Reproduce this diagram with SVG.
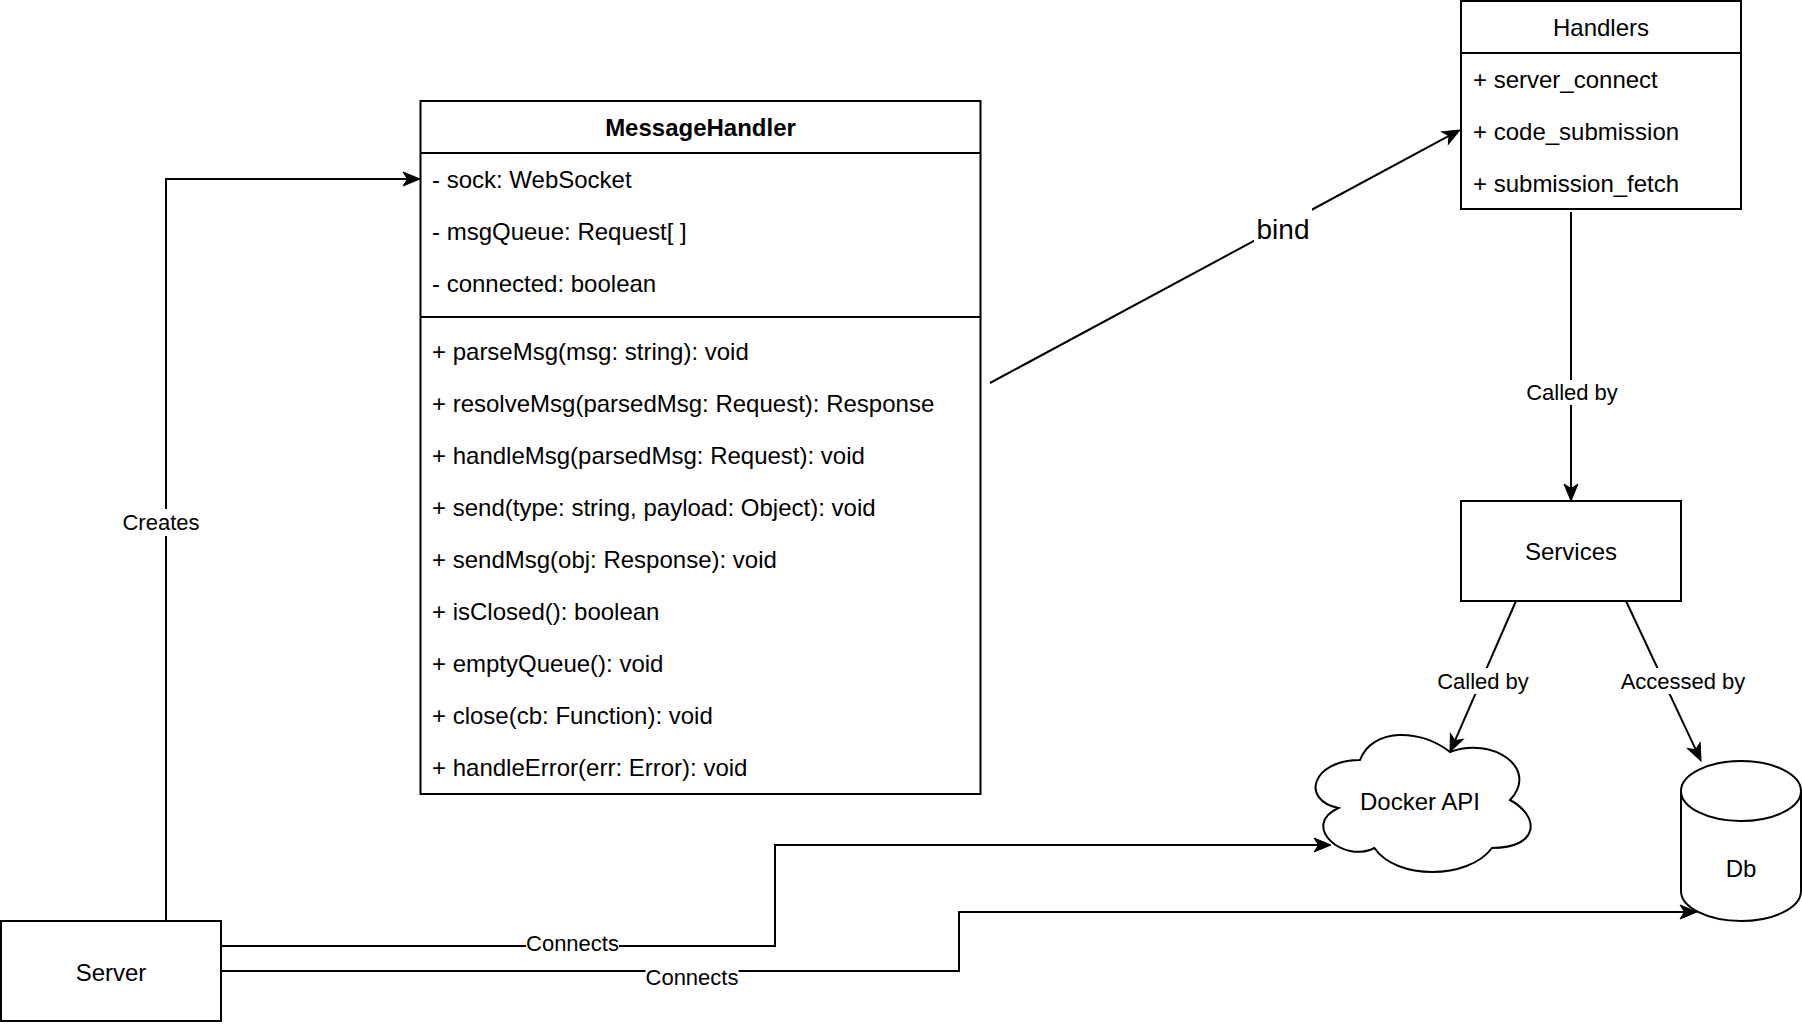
<svg xmlns="http://www.w3.org/2000/svg" width="1802" height="1024" viewBox="0 0 1802 1024">
<style>
text{font-family:"Liberation Sans",Arial,Helvetica,sans-serif;fill:#000}
.n{font-size:24px}
.c{text-anchor:middle}
.b{font-weight:bold}
.e{font-size:22px;text-anchor:middle}
.box{fill:#fff;stroke:#000;stroke-width:2}
.ln{fill:none;stroke:#000;stroke-width:2}
.edge{fill:none;stroke:#000;stroke-width:2}
.bg{fill:#fff}
</style>
<defs>
<marker id="arr" markerUnits="userSpaceOnUse" markerWidth="24" markerHeight="20" viewBox="-10 -10 24 20" refX="0" refY="0" orient="auto">
<path d="M10,0 L-7,-7 L-2.5,0 L-7,7 Z" fill="#000" stroke="#000" stroke-width="1"/>
</marker>
</defs>
<rect x="0" y="0" width="1802" height="1024" fill="#fff"/>

<g id="connectors">
<path class="edge" d="M166,921 V179 H410" marker-end="url(#arr)"/>
<path class="edge" d="M990,383 L1451.2,134.7" marker-end="url(#arr)"/>
<path class="edge" d="M1571,212 V491" marker-end="url(#arr)"/>
<path class="edge" d="M1516,601 L1454,742.8" marker-end="url(#arr)"/>
<path class="edge" d="M1626,601 L1696.8,751.9" marker-end="url(#arr)"/>
<path class="edge" d="M221,946 H775 V845 H1321" marker-end="url(#arr)"/>
<path class="edge" d="M221,971 H959 V912 H1687" marker-end="url(#arr)"/>
<g id="edge-labels">
<rect class="bg" x="122" y="509" width="78" height="27"/>
<text class="e" x="161" y="530">Creates</text>
<rect class="bg" x="1254" y="208" width="58" height="40"/>
<text class="c" x="1283" y="239" style="font-size:28px">bind</text>
<rect class="bg" x="1526" y="380" width="92" height="25"/>
<text class="e" x="1572" y="400">Called by</text>
<rect class="bg" x="1437" y="668" width="92" height="26"/>
<text class="e" x="1483" y="689">Called by</text>
<rect class="bg" x="1620" y="668" width="126" height="26"/>
<text class="e" x="1683" y="689">Accessed by</text>
<rect class="bg" x="526" y="932" width="93" height="24"/>
<text class="e" x="572.5" y="951">Connects</text>
<rect class="bg" x="645.5" y="965" width="93" height="24"/>
<text class="e" x="692" y="985">Connects</text>
</g>
</g>

<g id="MessageHandler">
<rect class="box" x="420.5" y="101" width="560" height="693"/>
<line class="ln" x1="420.5" y1="153" x2="980.5" y2="153"/>
<line class="ln" x1="420.5" y1="317" x2="980.5" y2="317"/>
<text class="n c b" x="700.5" y="135.5">MessageHandler</text>
<text class="n" x="432" y="188">- sock: WebSocket</text>
<text class="n" x="432" y="240">- msgQueue: Request[ ]</text>
<text class="n" x="432" y="292">- connected: boolean</text>
<text class="n" x="432" y="360">+ parseMsg(msg: string): void</text>
<text class="n" x="432" y="412">+ resolveMsg(parsedMsg: Request): Response</text>
<text class="n" x="432" y="464">+ handleMsg(parsedMsg: Request): void</text>
<text class="n" x="432" y="516">+ send(type: string, payload: Object): void</text>
<text class="n" x="432" y="568">+ sendMsg(obj: Response): void</text>
<text class="n" x="432" y="620">+ isClosed(): boolean</text>
<text class="n" x="432" y="672">+ emptyQueue(): void</text>
<text class="n" x="432" y="724">+ close(cb: Function): void</text>
<text class="n" x="432" y="776">+ handleError(err: Error): void</text>
</g>

<g id="Handlers">
<rect class="box" x="1461" y="1" width="280" height="208"/>
<line class="ln" x1="1461" y1="53" x2="1741" y2="53"/>
<text class="n c" x="1601" y="35.5">Handlers</text>
<text class="n" x="1473" y="87.5">+ server_connect</text>
<text class="n" x="1473" y="139.5">+ code_submission</text>
<text class="n" x="1473" y="191.5">+ submission_fetch</text>
</g>

<g id="Services">
<rect class="box" x="1461" y="501" width="220" height="100"/>
<text class="n c" x="1571" y="559.5">Services</text>
</g>

<g id="DockerAPI">
<path class="box" d="M1360,760 C1312,760 1300,800 1338.4,808 C1300,825.6 1343.2,864 1374.4,848 C1396,880 1468,880 1492,848 C1540,848 1540,816 1510,800 C1540,768 1492,736 1450,752 C1420,728 1372,728 1360,760 Z"/>
<text class="n c" x="1420" y="810">Docker API</text>
</g>

<g id="Db">
<path class="box" d="M1681,791 A60,30 0 0 1 1801,791 L1801,891 A60,30 0 0 1 1681,891 Z"/>
<path class="ln" d="M1681,791 A60,30 0 0 0 1801,791"/>
<text class="n c" x="1741" y="876.5">Db</text>
</g>

<g id="Server">
<rect class="box" x="1" y="921" width="220" height="100"/>
<text class="n c" x="111" y="980.5">Server</text>
</g>
</svg>
